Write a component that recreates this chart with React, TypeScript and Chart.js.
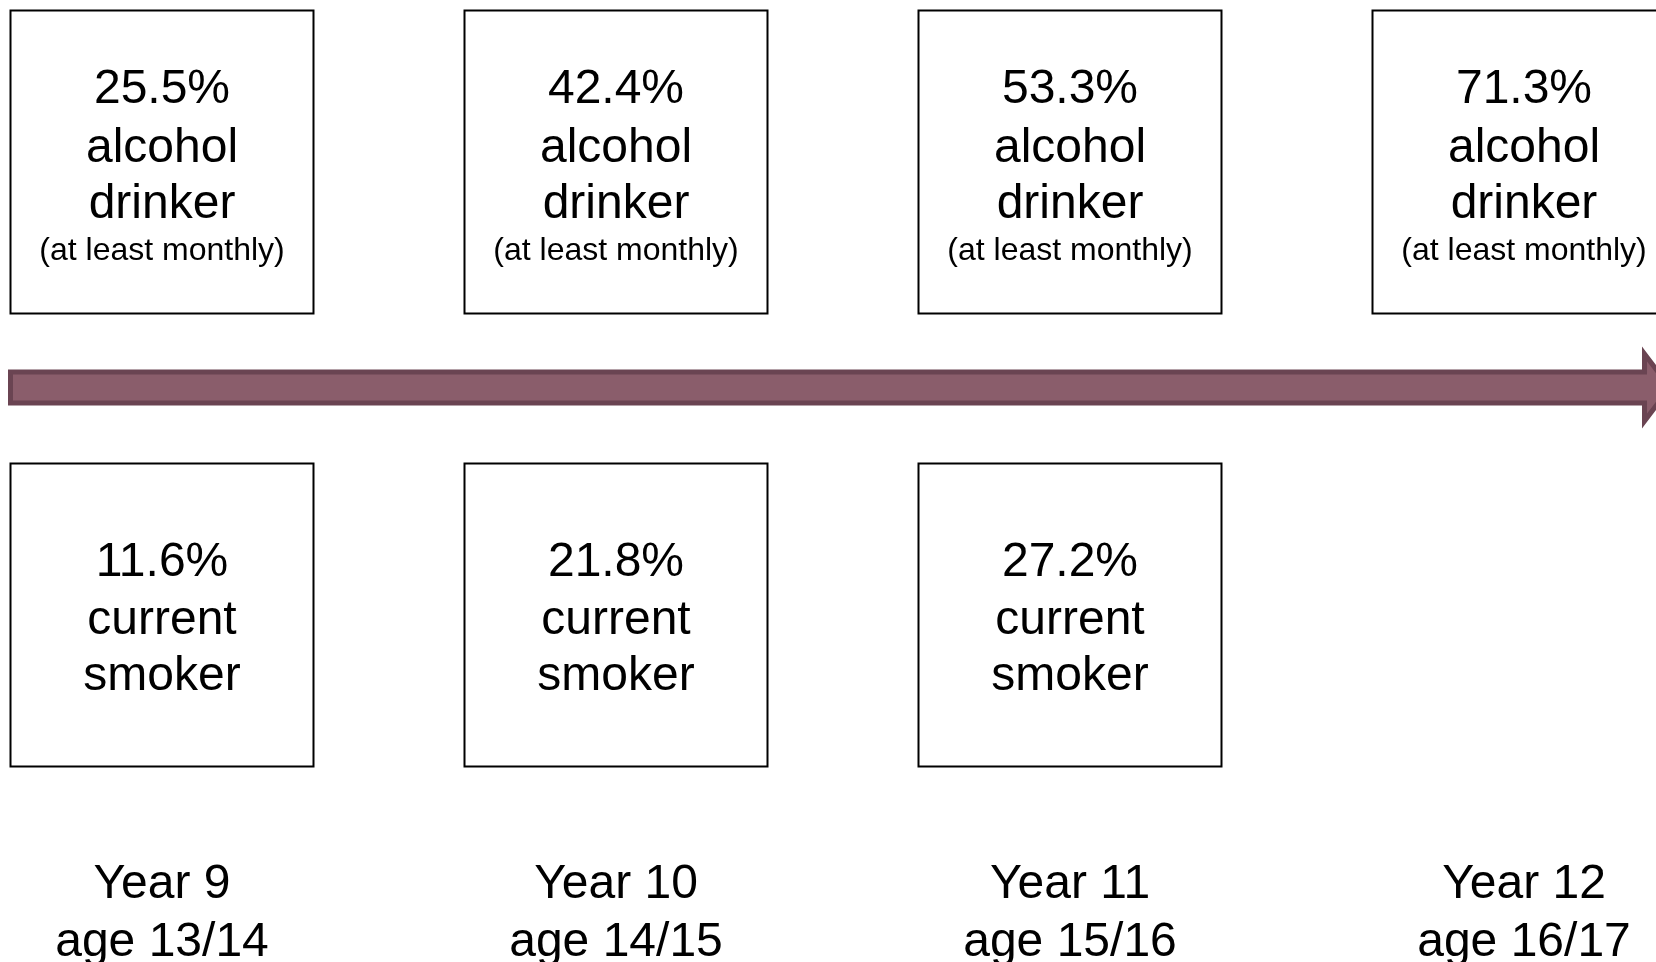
import React, { useEffect, useRef } from 'react';
import { Chart, registerables } from 'chart.js';

Chart.register(...registerables);

// ---- data ----
const years = ['Year 9', 'Year 10', 'Year 11', 'Year 12'];
const ages = ['age 13/14', 'age 14/15', 'age 15/16', 'age 16/17'];
const alcoholPct = [25.5, 42.4, 53.3, 71.3];
const smokerPct = [11.6, 21.8, 27.2];
const alcoholLines = ['alcohol', 'drinker'];
const alcoholNote = '(at least monthly)';
const smokerLines = ['current', 'smoker'];

// row positions (y values) and arrow extent (x values) in data units
const ALCOHOL_ROW = 1;
const SMOKER_ROW = 0;
const ARROW_Y = 0.5;
const ARROW_FROM = -0.3337;
const ARROW_TO = 3.3216;
const LABEL_ROW = -0.7528;

const FONT = '"Liberation Sans", Arial, Helvetica, sans-serif';

const diagramPlugin = {
  id: 'diagram',
  beforeDatasetsDraw(chart: any) {
    const { ctx } = chart;
    const x = chart.scales.x;
    const y = chart.scales.y;
    const x0 = x.getPixelForValue(ARROW_FROM);
    const x1 = x.getPixelForValue(ARROW_TO);
    const yc = y.getPixelForValue(ARROW_Y) - 1;
    const shaftH = 15.5;
    const headH = 33.5;
    const headLen = 25.5;
    ctx.save();
    ctx.beginPath();
    ctx.moveTo(x0, yc - shaftH);
    ctx.lineTo(x1 - headLen, yc - shaftH);
    ctx.lineTo(x1 - headLen, yc - headH);
    ctx.lineTo(x1, yc);
    ctx.lineTo(x1 - headLen, yc + headH);
    ctx.lineTo(x1 - headLen, yc + shaftH);
    ctx.lineTo(x0, yc + shaftH);
    ctx.closePath();
    ctx.fillStyle = '#8a5d6b';
    ctx.fill();
    ctx.lineWidth = 5;
    ctx.lineJoin = 'miter';
    ctx.strokeStyle = '#6a4452';
    ctx.stroke();
    ctx.restore();
  },
  afterDatasetsDraw(chart: any) {
    const { ctx } = chart;
    const x = chart.scales.x;
    const y = chart.scales.y;
    ctx.save();
    ctx.fillStyle = '#000';
    ctx.textAlign = 'center';
    ctx.textBaseline = 'alphabetic';
    const big = `48px ${FONT}`;
    const small = `32px ${FONT}`;

    alcoholPct.forEach((v, i) => {
      const cx = x.getPixelForValue(i);
      const cy = y.getPixelForValue(ALCOHOL_ROW);
      ctx.font = big;
      ctx.fillText(`${v.toFixed(1)}%`, cx, cy - 59);
      ctx.fillText(alcoholLines[0], cx, cy);
      ctx.fillText(alcoholLines[1], cx, cy + 56);
      ctx.font = small;
      ctx.fillText(alcoholNote, cx, cy + 98);
    });

    smokerPct.forEach((v, i) => {
      const cx = x.getPixelForValue(i);
      const cy = y.getPixelForValue(SMOKER_ROW);
      ctx.font = big;
      ctx.fillText(`${v.toFixed(1)}%`, cx, cy - 39);
      ctx.fillText(smokerLines[0], cx, cy + 19);
      ctx.fillText(smokerLines[1], cx, cy + 75);
    });

    years.forEach((label, i) => {
      const cx = x.getPixelForValue(i);
      const by = y.getPixelForValue(LABEL_ROW);
      ctx.font = big;
      ctx.fillText(label, cx, by - 58);
      ctx.fillText(ages[i], cx, by);
    });
    ctx.restore();
  },
};

export default function App() {
  const canvasRef = useRef<HTMLCanvasElement | null>(null);

  useEffect(() => {
    document.body.style.margin = '0';
    const canvas = canvasRef.current;
    if (!canvas) return;
    const boxRadius = 214.25;
    const chart = new Chart(canvas, {
      type: 'scatter',
      data: {
        datasets: [
          {
            label: 'Alcohol drinker (at least monthly)',
            data: alcoholPct.map((_, i) => ({ x: i, y: ALCOHOL_ROW })),
            pointStyle: 'rect',
            pointRadius: boxRadius,
            pointHoverRadius: boxRadius,
            backgroundColor: '#ffffff',
            borderColor: '#000000',
            borderWidth: 2,
            clip: false,
          },
          {
            label: 'Current smoker',
            data: smokerPct.map((_, i) => ({ x: i, y: SMOKER_ROW })),
            pointStyle: 'rect',
            pointRadius: boxRadius,
            pointHoverRadius: boxRadius,
            backgroundColor: '#ffffff',
            borderColor: '#000000',
            borderWidth: 2,
            clip: false,
          },
        ],
      },
      options: {
        animation: false,
        responsive: false,
        events: [],
        layout: { padding: 0, autoPadding: false },
        plugins: {
          legend: { display: false },
          tooltip: { enabled: false },
          title: { display: false },
        },
        scales: {
          x: { type: 'linear', min: -0.35683, max: 3.29075, display: false },
          y: { type: 'linear', min: -0.766, max: 1.35762, display: false },
        },
      },
      plugins: [diagramPlugin],
    });
    return () => chart.destroy();
  }, []);

  return (
    <div style={{ position: 'fixed', left: 0, top: 0, width: 1656, height: 962, background: '#fff' }}>
      <canvas ref={canvasRef} width={1656} height={962} style={{ display: 'block' }} />
    </div>
  );
}
